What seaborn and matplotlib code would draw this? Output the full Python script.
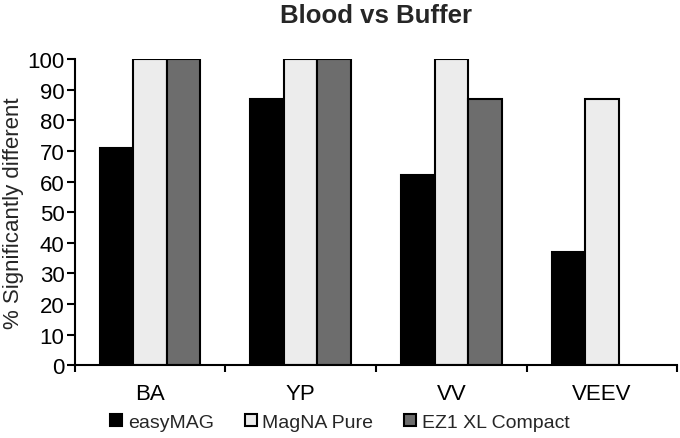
import matplotlib
matplotlib.use("Agg")
import matplotlib.pyplot as plt
import numpy as np
import pandas as pd
import seaborn as sns

# Datos
agentes = ["BA", "YP", "VV", "VEEV"]
metodos = ["easyMAG", "MagNA Pure", "EZ1 XL Compact"]
easymag = [71, 87, 62, 37]
magna_pure = [100, 100, 100, 87]
ez1 = [100, 100, 87, np.nan]  # sin barra para VEEV
colores = ["#000000", "#ececec", "#6d6d6d"]

df = pd.DataFrame({
    "agente": agentes * 3,
    "metodo": [m for m in metodos for _ in agentes],
    "valor": easymag + magna_pure + ez1,
})

sns.set_theme(style="white")
plt.rcParams["font.family"] = ["Liberation Sans", "DejaVu Sans"]

fig, ax = plt.subplots(figsize=(6.8, 4.39), dpi=100)
fig.subplots_adjust(left=0.110, right=0.996, top=0.863, bottom=0.166)

sns.barplot(
    data=df, x="agente", y="valor", hue="metodo",
    order=agentes, hue_order=metodos, palette=colores,
    width=0.667, edgecolor="black", linewidth=1.5,
    saturation=1, ax=ax, legend=True,
)

ax.set_ylim(0, 100)
ax.set_xlim(-0.5, len(agentes) - 0.5)
ax.set_yticks(np.arange(0, 101, 10))
ax.set_xlabel("")
ax.set_ylabel("% Significantly different", fontsize=16, labelpad=2)
ax.set_title("Blood vs Buffer", fontsize=18.5, fontweight="bold", pad=27)

for lado in ("top", "right"):
    ax.spines[lado].set_visible(False)
for lado in ("left", "bottom"):
    ax.spines[lado].set_color("black")
    ax.spines[lado].set_linewidth(1.5)

ax.tick_params(axis="y", which="major", direction="out", length=6, width=1.5,
               colors="black", labelsize=16, left=True, pad=1.5)
ax.tick_params(axis="x", which="major", length=0, labelsize=16, pad=13, colors="black")
ax.set_xticks(np.arange(-0.5, len(agentes)), minor=True)
ax.tick_params(axis="x", which="minor", direction="out", length=5, width=1.5,
               colors="black", bottom=True)

handles, labels = ax.get_legend_handles_labels()
ax.legend_.remove()
fig.legend(handles, labels, loc="center", bbox_to_anchor=(0.5, 0.035), ncol=3,
           frameon=False, fontsize=14, handlelength=0.6, handleheight=0.6,
           handletextpad=0.3, columnspacing=1.6)

fig.savefig("out.png", dpi=100)
